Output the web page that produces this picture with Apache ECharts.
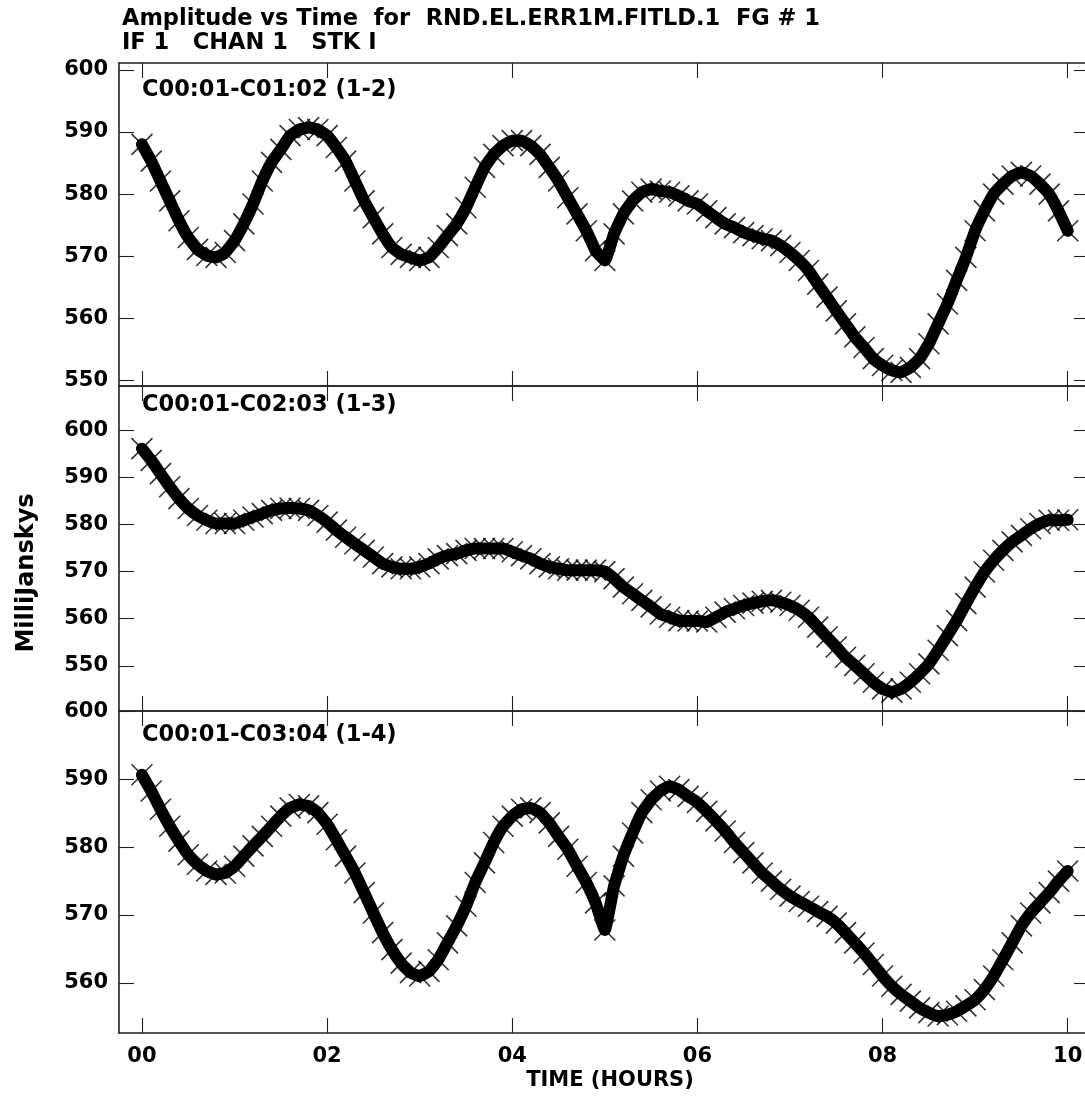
<!DOCTYPE html>
<html>
<head>
<meta charset="utf-8">
<script src="https://cdn.jsdelivr.net/npm/echarts@6/dist/echarts.min.js"></script>
<style>
  html, body { margin: 0; padding: 0; background: #fff; }
  #chart { width: 1085px; height: 1099px; }
</style>
</head>
<body>
<div id="chart"></div>
<script>
// Sample times (hours), one reading every 0.1 h
const times = [0.0,0.1,0.2,0.3,0.4,0.5,0.6,0.7,0.8,0.9,1.0,1.1,1.2,1.3,1.4,1.5,1.6,1.7,1.8,1.9,2.0,
  2.1,2.2,2.3,2.4,2.5,2.6,2.7,2.8,2.9,3.0,3.1,3.2,3.3,3.4,3.5,3.6,3.7,3.8,3.9,4.0,
  4.1,4.2,4.3,4.4,4.5,4.6,4.7,4.8,4.9,5.0,5.1,5.2,5.3,5.4,5.5,5.6,5.7,5.8,5.9,6.0,
  6.1,6.2,6.3,6.4,6.5,6.6,6.7,6.8,6.9,7.0,7.1,7.2,7.3,7.4,7.5,7.6,7.7,7.8,7.9,8.0,
  8.1,8.2,8.3,8.4,8.5,8.6,8.7,8.8,8.9,9.0,9.1,9.2,9.3,9.4,9.5,9.6,9.7,9.8,9.9,10.0];

// Baseline C00:01-C01:02 (1-2), mJy
const amp12 = [588.0,585.3,582.1,578.9,575.7,573.0,571.1,570.1,569.8,570.6,572.5,
  575.2,578.4,582.1,585.1,587.2,589.4,590.4,590.7,590.4,589.4,
  587.5,585.3,582.1,578.9,576.2,573.6,571.4,570.3,569.8,569.3,
  569.8,571.4,573.3,575.2,577.8,581.1,584.3,586.4,587.8,588.6,
  588.6,587.8,586.4,584.3,582.1,579.4,576.8,574.1,570.9,569.3,
  573.6,576.8,578.9,580.3,580.8,580.5,580.3,579.7,578.9,578.4,
  577.3,576.2,575.2,574.6,573.8,573.3,572.8,572.5,571.7,570.6,
  569.3,567.7,565.5,563.4,561.2,559.1,557.0,555.3,553.5,552.4,
  551.6,551.3,552.1,553.5,555.9,559.1,562.3,566.1,569.8,574.1,
  577.3,580.0,581.6,582.9,583.5,582.9,581.6,580.0,577.3,574.1];

// Baseline C00:01-C02:03 (1-3), mJy
const amp13 = [596.1,593.6,590.8,588.0,585.5,583.4,581.9,580.9,580.2,580.2,580.2,
  580.9,581.6,582.3,583.0,583.4,583.5,583.4,583.0,581.9,580.5,
  578.8,577.3,575.9,574.5,573.1,571.7,571.0,570.6,570.6,571.0,
  571.7,572.7,573.4,573.8,574.5,574.9,574.9,574.9,574.9,574.2,
  573.4,572.7,571.7,571.0,570.6,570.3,570.3,570.3,570.3,570.0,
  568.5,566.7,565.3,563.9,562.5,561.0,560.3,559.6,559.5,559.5,
  559.3,560.3,561.4,562.1,562.8,563.3,563.7,563.9,563.5,562.8,
  561.8,560.3,558.2,556.1,554.0,551.8,550.1,548.3,546.5,545.1,
  544.4,545.1,546.5,548.3,550.4,553.3,556.4,559.6,563.2,566.7,
  569.9,572.4,574.5,576.3,577.7,579.1,580.2,580.9,580.9,581.0];

// Baseline C00:01-C03:04 (1-4), mJy
const amp14 = [590.7,588.3,585.6,583.1,580.9,578.9,577.5,576.5,576.0,576.2,577.2,
  578.7,580.2,581.6,583.1,584.6,585.8,586.3,586.1,585.1,583.4,
  581.1,578.7,576.2,573.3,570.3,567.4,564.9,562.9,561.5,561.0,
  561.7,563.4,565.9,568.4,571.3,574.8,577.7,580.7,583.1,584.6,
  585.6,585.8,585.1,583.6,581.6,579.7,577.2,574.8,571.8,567.8,
  574.3,578.7,582.1,585.1,587.0,588.3,589.0,588.5,587.5,586.6,
  585.3,583.9,582.4,580.7,579.2,577.7,576.2,575.0,573.8,572.8,
  572.0,571.3,570.5,569.8,568.8,567.4,565.9,564.4,562.7,561.0,
  559.5,558.3,557.3,556.3,555.6,555.1,555.3,555.8,556.6,557.5,
  559.0,561.0,563.4,565.9,568.4,570.3,571.8,573.3,575.0,576.5];

const panelNames = ['C00:01-C01:02 (1-2)', 'C00:01-C02:03 (1-3)', 'C00:01-C03:04 (1-4)'];
const titleLines = ['Amplitude vs Time  for  RND.EL.ERR1M.FITLD.1  FG # 1', 'IF 1   CHAN 1   STK I'];
const xTickValues = [0, 2, 4, 6, 8, 10];
const xTickLabels = ['00', '02', '04', '06', '08', '10'];
const yTickValues = [
  [550, 560, 570, 580, 590, 600],
  [550, 560, 570, 580, 590, 600],
  [560, 570, 580, 590, 600]
];
const yRanges = [[549.1, 601.1], [540.4, 609.4], [552.6, 600.1]];
const xRange = [-0.248, 10.23];

const seriesValues = [amp12, amp13, amp14];

const FONT = 'DejaVu Sans';
const INK = '#000';
const FRAME = '#222';

const gridBoxes = [
  { left: 119, top: 63, width: 970, height: 323 },
  { left: 119, top: 386, width: 970, height: 325 },
  { left: 119, top: 711, width: 970, height: 322 }
];

const labelStyle = { fontFamily: FONT, fontWeight: 'bold', fontSize: 21, color: INK };

const grid = [], xAxis = [], yAxis = [], series = [];
gridBoxes.forEach((g, i) => {
  grid.push(Object.assign({ containLabel: false, outerBoundsMode: 'none' }, g));
  const axisCommon = {
    axisLine: { show: true, onZero: false, lineStyle: { color: FRAME, width: 1.6 } },
    splitLine: { show: false }
  };
  const tickStyle = { color: FRAME, width: 1.1 };
  // bottom / top time axes
  xAxis.push(Object.assign({
    gridIndex: i, type: 'value', position: 'bottom', min: xRange[0], max: xRange[1],
    axisTick: { show: true, inside: true, length: 15, customValues: xTickValues, lineStyle: tickStyle },
    axisLabel: {
      show: i === 2, customValues: xTickValues, margin: 13,
      formatter: v => xTickLabels[xTickValues.indexOf(v)],
      ...labelStyle
    }
  }, axisCommon));
  xAxis.push(Object.assign({
    gridIndex: i, type: 'value', position: 'top', min: xRange[0], max: xRange[1],
    axisTick: { show: true, inside: true, length: 15, customValues: xTickValues, lineStyle: tickStyle },
    axisLabel: { show: false }
  }, axisCommon));
  // left / right amplitude axes
  yAxis.push(Object.assign({
    gridIndex: i, type: 'value', position: 'left', min: yRanges[i][0], max: yRanges[i][1],
    axisTick: { show: true, inside: true, length: 15, customValues: yTickValues[i], lineStyle: tickStyle },
    axisLabel: { show: true, customValues: yTickValues[i], margin: 11, ...labelStyle }
  }, axisCommon));
  yAxis.push(Object.assign({
    gridIndex: i, type: 'value', position: 'right', min: yRanges[i][0], max: yRanges[i][1],
    axisTick: { show: true, inside: true, length: 15, customValues: yTickValues[i], lineStyle: tickStyle },
    axisLabel: { show: false }
  }, axisCommon));

  const pts = times.map((t, k) => [t, seriesValues[i][k]]);
  // dense core of the visibility track
  series.push({
    type: 'line', xAxisIndex: i * 2, yAxisIndex: i * 2, data: pts,
    showSymbol: false, silent: true, animation: false, smooth: 0.1,
    lineStyle: { color: INK, width: 12, join: 'round', cap: 'round' }
  });
  // individual samples as x markers
  series.push({
    type: 'scatter', xAxisIndex: i * 2, yAxisIndex: i * 2, data: pts,
    symbol: 'path://M0 0L10 10M10 0L0 10', symbolSize: 21,
    silent: true, animation: false,
    itemStyle: { color: 'rgba(0,0,0,0)', borderColor: INK, borderWidth: 1.6 }
  });
});

const titles = [{
  text: titleLines.join('\n'), left: 117, top: 2,
  textStyle: { fontFamily: FONT, fontWeight: 'bold', fontSize: 22.5, lineHeight: 24, color: INK }
}];
const panelLabelTops = [74, 389, 719];
panelNames.forEach((name, i) => {
  titles.push({
    text: name, left: 137, top: panelLabelTops[i],
    textStyle: { fontFamily: FONT, fontWeight: 'bold', fontSize: 22.5, color: INK }
  });
});

const chart = echarts.init(document.getElementById('chart'), null, { renderer: 'canvas' });
chart.setOption({
  animation: false,
  backgroundColor: '#fff',
  title: titles,
  grid, xAxis, yAxis, series,
  graphic: [
    {
      type: 'text', x: 27, y: 573, rotation: Math.PI / 2,
      style: { text: 'MilliJanskys', fontFamily: FONT, fontWeight: 'bold', fontSize: 24, fill: INK, align: 'center', verticalAlign: 'middle' }
    },
    {
      type: 'text', x: 610, y: 1081,
      style: { text: 'TIME (HOURS)', fontFamily: FONT, fontWeight: 'bold', fontSize: 21, fill: INK, align: 'center', verticalAlign: 'middle' }
    }
  ]
});
</script>
</body>
</html>
